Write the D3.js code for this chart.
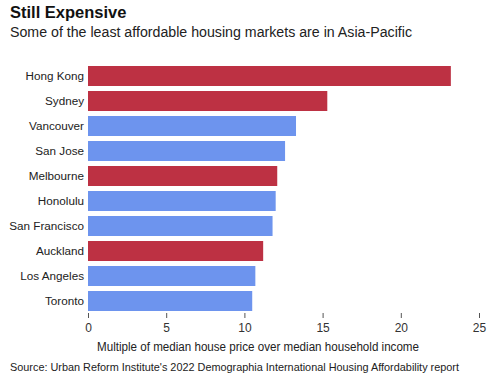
<!DOCTYPE html>
<html>
<head>
<meta charset="utf-8">
<script src="https://cdn.jsdelivr.net/npm/d3@7"></script>
<style>
  body { margin: 0; background: #fff; }
  svg { font-family: "Liberation Sans", Arial, sans-serif; display: block; }
</style>
</head>
<body>
<svg width="497" height="386"></svg>
<script>
var cities = ["Hong Kong", "Sydney", "Vancouver", "San Jose", "Melbourne", "Honolulu", "San Francisco", "Auckland", "Los Angeles", "Toronto"],
    multiples = [23.2, 15.3, 13.3, 12.6, 12.1, 12.0, 11.8, 11.2, 10.7, 10.5],
    asiaPacific = [true, true, false, false, true, false, false, true, false, false],
    xTicks = [0, 5, 10, 15, 20, 25];

var data = cities.map(function (c, i) {
    return {city: c, value: multiples[i], ap: asiaPacific[i]};
});

var svg = d3.select("svg");

var xScale = d3.scaleLinear().domain([0, 25]).range([88, 479]);
var yScale = d3.scaleBand().domain(cities).range([63.5, 313.5]).paddingInner(0.2).paddingOuter(0.1);

// titles
svg.append("text").attr("x", 10).attr("y", 18)
    .attr("font-size", 16.5).attr("font-weight", "bold").attr("fill", "#111")
    .text("Still Expensive");
svg.append("text").attr("x", 10).attr("y", 37)
    .attr("font-size", 14).attr("fill", "#222")
    .attr("textLength", 402).attr("lengthAdjust", "spacingAndGlyphs")
    .text("Some of the least affordable housing markets are in Asia-Pacific");

// bars
svg.append("g").selectAll("rect")
    .data(data).enter().append("rect")
    .attr("x", xScale(0))
    .attr("y", function (d) { return yScale(d.city); })
    .attr("width", function (d) { return xScale(d.value) - xScale(0); })
    .attr("height", yScale.bandwidth())
    .attr("fill", function (d) { return d.ap ? "#bd3143" : "#6d94ee"; });

// category labels
svg.append("g").selectAll("text")
    .data(data).enter().append("text")
    .attr("x", 84)
    .attr("y", function (d) { return yScale(d.city) + yScale.bandwidth() / 2; })
    .attr("dy", "0.35em")
    .attr("text-anchor", "end")
    .attr("font-size", 11.7).attr("fill", "#222")
    .text(function (d) { return d.city; });

// x axis
var xAxis = svg.append("g").attr("transform", "translate(0,313)")
    .call(d3.axisBottom(xScale).tickValues(xTicks).tickSize(5).tickPadding(5));
xAxis.select(".domain").remove();
xAxis.selectAll(".tick line").attr("stroke", "#555");
xAxis.selectAll(".tick text").attr("font-size", 12).attr("fill", "#333")
    .attr("font-family", "Liberation Sans, Arial, sans-serif");

svg.append("text").attr("x", 258).attr("y", 351)
    .attr("text-anchor", "middle").attr("font-size", 12).attr("fill", "#222")
    .attr("textLength", 322).attr("lengthAdjust", "spacingAndGlyphs")
    .text("Multiple of median house price over median household income");

svg.append("text").attr("x", 10).attr("y", 371)
    .attr("font-size", 11.5).attr("fill", "#222")
    .attr("textLength", 449).attr("lengthAdjust", "spacingAndGlyphs")
    .text("Source: Urban Reform Institute's 2022 Demographia International Housing Affordability report");
</script>
</body>
</html>
